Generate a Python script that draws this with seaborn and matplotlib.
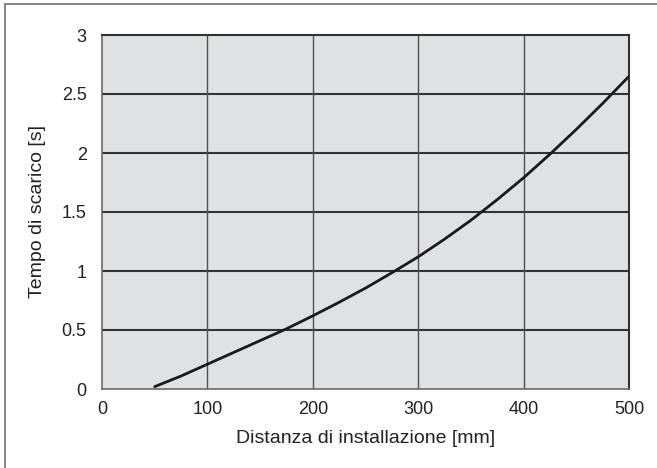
import matplotlib
matplotlib.use("Agg")
import matplotlib.pyplot as plt
import seaborn as sns
import pandas as pd
from matplotlib.patches import Rectangle

distance_mm = [50, 75, 100, 125, 150, 175, 200, 225, 250, 275, 300, 325, 350, 375, 400, 425, 450, 475, 500]
time_s = [0.02, 0.11, 0.21, 0.31, 0.41, 0.51, 0.62, 0.735, 0.855, 0.985, 1.12, 1.27, 1.43, 1.605, 1.79, 1.99, 2.20, 2.42, 2.65]
x_ticks = [0, 100, 200, 300, 400, 500]
y_ticks = [0, 0.5, 1, 1.5, 2, 2.5, 3]
y_tick_labels = ["0", "0.5", "1", "1.5", "2", "2.5", "3"]
x_label = "Distanza di installazione [mm]"
y_label = "Tempo di scarico [s]"

sns.set_theme(style="white")
plt.rcParams['font.family'] = ['Liberation Sans', 'DejaVu Sans']

df = pd.DataFrame({"x": distance_mm, "y": time_s})

fig = plt.figure(figsize=(6.57, 4.68), dpi=100)
ax = fig.add_axes([102/657, 79/468, 527/657, 354/468])
ax.set_facecolor("#e0e1e3")

for v in y_ticks[1:-1]:
    ax.axhline(v, color="#333333", lw=1.5, zorder=1)
for v in x_ticks[1:-1]:
    ax.axvline(v, color="#505050", lw=1.0, zorder=1)

sns.lineplot(data=df, x="x", y="y", ax=ax, color="#1a1a1a", lw=2.0, zorder=3)

ax.set_xlim(0, 500)
ax.set_ylim(0, 3)
ax.set_xticks(x_ticks)
ax.set_yticks(y_ticks)
ax.set_yticklabels(y_tick_labels)
ax.tick_params(axis="both", length=0, labelsize=13, colors="#222222")
ax.tick_params(axis="x", pad=9)
ax.tick_params(axis="y", pad=11)
ax.set_xlabel(x_label, fontsize=14, color="#222222", labelpad=8)
ax.set_ylabel(y_label, fontsize=14, color="#222222", labelpad=11)

for s in ["left", "bottom"]:
    ax.spines[s].set_color("#6a6a6a")
    ax.spines[s].set_linewidth(1.2)
for s in ["top", "right"]:
    ax.spines[s].set_color("#333333")
    ax.spines[s].set_linewidth(1.5)

fig.patches.append(Rectangle((5/657, -0.05), 1.1, (468-4)/468 + 0.05,
                             transform=fig.transFigure, fill=False,
                             edgecolor="#707070", lw=1.2))

fig.savefig("out.png", dpi=100)
